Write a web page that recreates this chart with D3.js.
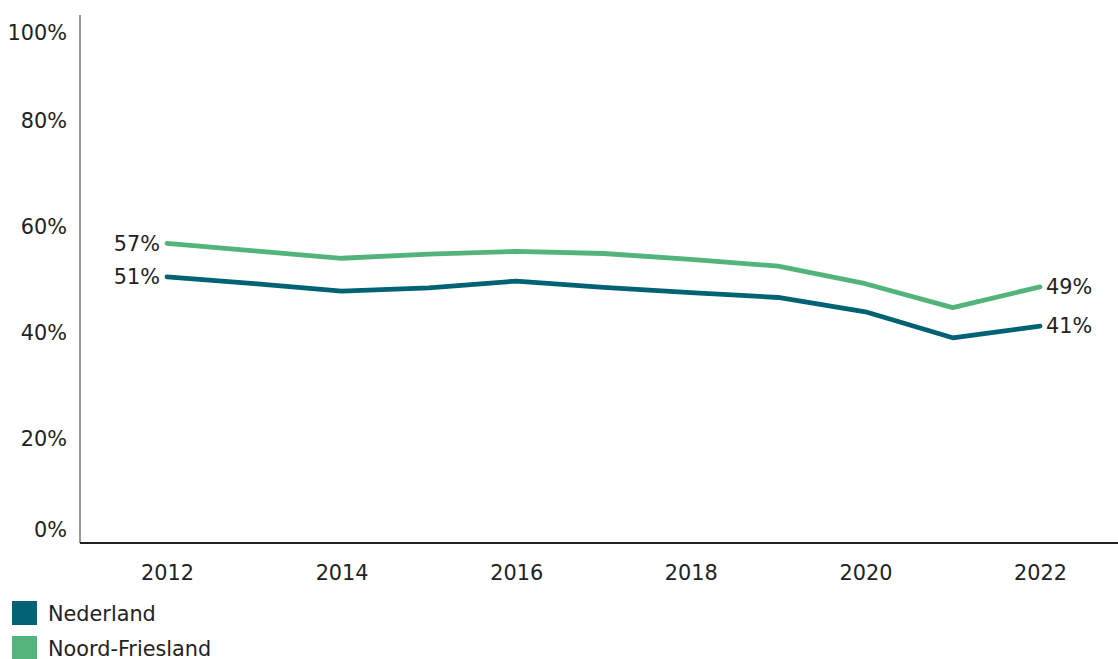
<!DOCTYPE html>
<html><head><meta charset="utf-8">
<script src="https://cdn.jsdelivr.net/npm/d3@7"></script>
<style>body{margin:0;background:#fff;}svg{display:block;font-family:"DejaVu Sans",sans-serif;}</style>
</head><body><svg id="c" width="1118" height="659"></svg>
<script>
const years = [2012,2013,2014,2015,2016,2017,2018,2019,2020,2021,2022];
const nederland = [0.506,0.493,0.479,0.485,0.498,0.486,0.476,0.467,0.440,0.391,0.413];
const noordFriesland = [0.569,0.555,0.541,0.549,0.554,0.550,0.539,0.526,0.493,0.448,0.487];
const seriesNames = ["Nederland","Noord-Friesland"];
const seriesColors = ["#006272","#52b47a"];
const yTicks = [0,0.2,0.4,0.6,0.8,1];
const xTicks = [2012,2014,2016,2018,2020,2022];

const FONT = "DejaVu Sans";
const FS = 20.8;
const svg = d3.select("#c");
const x = d3.scaleLinear().domain([2012,2022]).range([167,1040]);
const y = d3.scaleLinear().domain([0,1]).range([545,15]);
const fmt = d3.format(".0%");

// y axis
const ya = svg.append("g").attr("transform","translate(80,0)")
  .call(d3.axisLeft(y).tickValues(yTicks).tickFormat(fmt).tickSize(0).tickPadding(13));
ya.select(".domain").attr("stroke","#777").attr("stroke-width",1.5).attr("d","M0,15V543");
ya.selectAll("text").attr("font-size",FS).attr("fill","#222").attr("font-family",FONT)
  .attr("dy",d => d===0 ? "-0.4em" : d===1 ? "1.2em" : "0.32em");

// x axis
const xa = svg.append("g").attr("transform","translate(0,543)")
  .call(d3.axisBottom(x).tickValues(xTicks).tickFormat(d3.format("d")).tickSize(0).tickPadding(22));
xa.select(".domain").attr("stroke","#222").attr("stroke-width",2.2).attr("d","M80,0H1118");
xa.selectAll("text").attr("font-size",FS).attr("fill","#222").attr("font-family",FONT);

const data = [nederland, noordFriesland];
const line = d3.line().x((d,i)=>x(years[i])).y(d=>y(d));
[1,0].forEach(k=>{
  svg.append("path").datum(data[k]).attr("fill","none").attr("stroke",seriesColors[k])
    .attr("stroke-width",4.8).attr("stroke-linejoin","round").attr("stroke-linecap","round").attr("d",line);
});
data.forEach((s,k)=>{
  const n = s.length-1;
  svg.append("text").attr("x",x(years[0])-7).attr("y",y(s[0])).attr("dy","0.35em")
    .attr("text-anchor","end").attr("font-size",FS).attr("fill","#222").text(fmt(s[0]));
  svg.append("text").attr("x",x(years[n])+6).attr("y",y(s[n])).attr("dy","0.35em")
    .attr("text-anchor","start").attr("font-size",FS).attr("fill","#222").text(fmt(s[n]));
});

// legend
const lg = svg.append("g");
seriesNames.forEach((nm,i)=>{
  lg.append("rect").attr("x",12).attr("y",601+i*35).attr("width",25).attr("height",24).attr("fill",seriesColors[i]);
  lg.append("text").attr("x",48).attr("y",614+i*35).attr("dy","0.35em").attr("font-size",FS).attr("fill","#222").text(nm);
});
</script></body></html>
